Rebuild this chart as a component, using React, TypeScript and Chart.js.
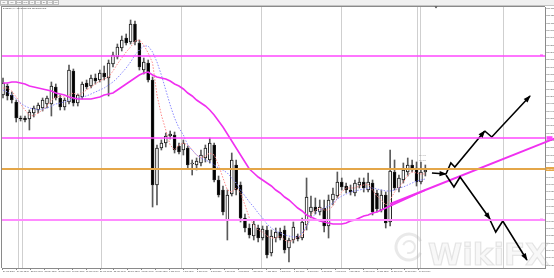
import React, { useEffect, useRef } from "react";
import { Chart, registerables } from "chart.js";

Chart.register(...registerables);

// ---- candle data (price units) ----
const opens = [
  170, 179, 170, 163, 147, 147, 146, 152, 155, 157,
  161, 161, 178, 167, 158, 163, 194, 162, 168, 182,
  179, 187, 185, 192, 187, 201, 208, 217, 227, 223,
  241, 222, 195, 202, 185, 80, 117, 122, 129, 130,
  119, 115, 117, 101, 100, 102, 107, 105, 120, 85,
  75, 45, 71, 100, 80, 47, 37, 29, 37, 27,
  35, 12, 27, 33, 35, 17, 25, 29, 27, 40,
  53, 58, 53, 57, 39, 65, 69, 83, 79, 75,
  72, 80, 83, 75, 82, 72, 55, 70, 43, 93,
  77, 85, 93, 100, 97, 83, 93,
];
const highs = [
  187, 181, 173, 165, 149, 149, 155, 159, 162, 167,
  169, 183, 181, 170, 167, 200, 196, 171, 183, 185,
  190, 191, 195, 199, 205, 213, 221, 229, 231, 245,
  244, 225, 207, 205, 188, 120, 125, 132, 134, 133,
  122, 125, 119, 105, 107, 115, 120, 127, 122, 89,
  79, 75, 112, 105, 83, 51, 41, 45, 40, 39,
  39, 35, 37, 37, 39, 27, 43, 31, 47, 87,
  69, 67, 65, 65, 70, 77, 93, 87, 82, 80,
  85, 87, 87, 92, 85, 75, 75, 73, 115, 105,
  90, 102, 107, 105, 103, 103, 100,
];
const lows = [
  167, 165, 162, 143, 144, 143, 135, 148, 152, 154,
  157, 149, 165, 155, 155, 161, 159, 159, 166, 176,
  177, 181, 183, 185, 169, 198, 206, 214, 220, 221,
  220, 195, 191, 183, 58, 60, 115, 118, 126, 112,
  111, 110, 97, 90, 95, 99, 103, 102, 83, 68,
  50, 25, 69, 70, 43, 33, 27, 25, 23, 25,
  7, 9, 23, 25, 12, 3, 22, 24, 25, 35,
  47, 51, 50, 33, 27, 60, 67, 75, 72, 70,
  69, 77, 73, 73, 50, 53, 53, 37, 39, 75,
  73, 82, 89, 93, 79, 81, 89,
];
const closes = [
  182, 169, 165, 147, 146, 145, 153, 157, 160, 165,
  167, 179, 167, 158, 165, 195, 162, 170, 181, 178,
  187, 184, 192, 188, 202, 210, 218, 225, 222, 241,
  223, 198, 203, 185, 80, 117, 122, 129, 131, 115,
  113, 122, 100, 102, 104, 110, 117, 122, 85, 70,
  53, 70, 105, 75, 47, 37, 30, 41, 27, 36,
  10, 29, 33, 27, 15, 25, 38, 26, 43, 68,
  58, 54, 58, 39, 65, 71, 83, 78, 75, 73,
  82, 83, 77, 83, 53, 56, 70, 42, 94, 77,
  87, 95, 100, 95, 83, 93, 95,
];

// ---- moving averages ----
const slowMA = [
  182, 182, 183, 183, 182, 181, 179, 178, 177, 176,
  175, 174, 172, 171, 170, 168, 167, 166, 166, 166,
  166, 167, 168, 170, 171, 172, 175, 178, 181, 184,
  187, 190, 192, 193, 190, 188, 187, 186, 184, 181,
  179, 176, 172, 169, 165, 162, 159, 155, 150, 144,
  138, 131, 124, 117, 110, 103, 96, 92, 88, 85,
  82, 79, 75, 72, 68, 65, 61, 57, 54, 50,
  48, 46, 44, 43, 42, 41, 41, 41, 42, 44,
  45, 47, 49, 50, 52, 53, 55, 57, 59, 61,
  63, 65, 67, 69, 71, 73, 75,
];
const midMA = [
  175, 173, 170, 166, 162, 159, 157, 156, 155, 156,
  157, 159, 161, 162, 163, 165, 166, 167, 168, 169,
  171, 173, 175, 177, 180, 183, 187, 192, 197, 203,
  210, 215, 219, 219, 213, 203, 190, 175, 160, 147,
  137, 130, 120, 115, 110, 107, 105, 103, 100, 97,
  95, 92, 87, 82, 75, 69, 63, 58, 52, 47,
  41, 37, 34, 32, 30, 29, 28, 28, 32, 39,
  46, 51, 55, 57, 59, 62, 66, 69, 71, 73,
  74, 75, 76, 77, 77, 76, 75, 74, 74, 75,
  77, 78, 80, 82, 84, 85, 86,
];
const fastMA = [
  177, 177, 174, 168, 161, 155, 150, 149, 152, 155,
  159, 165, 168, 169, 168, 170, 172, 170, 172, 175,
  178, 181, 184, 186, 188, 194, 201, 207, 213, 218,
  224, 225, 220, 212, 202, 170, 150, 135, 120, 115,
  120, 122, 120, 115, 110, 107, 109, 112, 110, 100,
  87, 75, 73, 77, 72, 60, 47, 40, 35, 33,
  29, 27, 27, 29, 25, 23, 25, 28, 29, 40,
  50, 55, 57, 55, 55, 59, 67, 73, 77, 77,
  77, 79, 80, 81, 75, 69, 65, 60, 65, 73,
  78, 83, 90, 93, 92, 91, 91,
];

// ---- drawn objects ----
const magentaLevels = [209, 127];
const pinkLevel = 45;
const currentPrice = 96;
const trendX = [88, 125.7];
const trendY = [61, 127];
const arrowRightX = [97.5, 100.7];
const arrowRightY = [92, 91];
const arrowUp1X = [100.7, 101.8, 102.7, 109.5];
const arrowUp1Y = [91, 102, 98, 134];
const arrowUp2X = [109.5, 111.1, 119.8];
const arrowUp2Y = [134, 128, 169];
const arrowDown1X = [100.7, 102.5, 103.9, 110.7];
const arrowDown1Y = [90, 78, 88, 46];
const arrowDown2X = [110.7, 112.0, 113.6, 119.1];
const arrowDown2Y = [45, 33, 44, 5];
const verticalLines = [3.4, 4.3, 22.3, 40.5, 58.6, 76.8, 94.1, 94.8, 113.6];

// ---- axis labels ----
const xLabels = [
  "24 May 2021", "24 May 12:00", "25 May 00:00", "25 May 12:00", "26 May 00:00",
  "26 May 12:00", "27 May 00:00", "27 May 12:00", "28 May 00:00", "28 May 12:00",
  "31 May 00:00", "31 May 12:00", "1 Jun 00:00", "1 Jun 12:00", "2 Jun 00:00",
  "2 Jun 12:00", "3 Jun 00:00", "3 Jun 12:00", "4 Jun 00:00", "4 Jun 12:00",
  "7 Jun 00:00", "7 Jun 12:00", "8 Jun 00:00", "8 Jun 12:00", "9 Jun 00:00",
  "9 Jun 12:00", "10 Jun 00:00", "10 Jun 12:00", "11 Jun 00:00", "11 Jun 12:00",
  "14 Jun 00:00",
];
const yLabels = [
  "109.350", "109.400", "109.450", "109.500", "109.550", "109.600", "109.650",
  "109.700", "109.750", "109.800", "109.850", "109.900", "109.950", "110.000",
  "110.050", "110.100", "110.150", "110.200", "110.250", "110.300", "110.350",
  "110.400", "110.450", "110.500", "110.550", "110.600", "110.650", "110.700",
  "110.750", "110.800", "110.850", "110.900", "110.950", "111.000", "111.050",
  "111.100",
];
const toolbarButtons = ["M1", "M5", "M15", "M30", "H1", "H4", "D1", "W1", "MN"];
const headerText = "\u25BE USDJPY,H4  110.312 110.348 110.298 110.331";
const currentPriceLabel = "110.010";

const FONT = '"Liberation Sans", Arial, sans-serif';

function pts(xs: number[], ys: number[]) {
  return xs.map((x, i) => ({ x, y: ys[i] }));
}

function arrowDataset(label: string, xs: number[], ys: number[]) {
  return {
    type: "line",
    label,
    data: pts(xs, ys),
    borderColor: "#000",
    borderWidth: 1.6,
    pointRadius: 0,
    order: 1,
    clip: false,
    isArrow: true,
  } as any;
}

function buildChart(canvas: HTMLCanvasElement) {
  const bodyColors = opens.map((o, i) => (closes[i] >= o ? "#ffffff" : "#000000"));

  const overlay = {
    id: "overlay",
    beforeDraw(chart: any) {
      const ctx = chart.ctx as CanvasRenderingContext2D;
      ctx.save();
      ctx.fillStyle = "#ffffff";
      ctx.fillRect(0, 0, chart.width, chart.height);
      ctx.fillStyle = "#f0f0f0";
      ctx.fillRect(0, 0, chart.width, 6);
      ctx.strokeStyle = "#c4c4c4";
      ctx.lineWidth = 1;
      ctx.beginPath();
      ctx.moveTo(0, 5.5);
      ctx.lineTo(chart.width, 5.5);
      ctx.stroke();
      const widths = [7, 7, 5, 6, 5, 5, 5, 5, 5];
      let bx = 0.5;
      ctx.font = `2px ${FONT}`;
      ctx.textAlign = "center";
      ctx.textBaseline = "middle";
      toolbarButtons.forEach((b, i) => {
        ctx.strokeStyle = "#bdbdbd";
        ctx.fillStyle = "#f8f8f8";
        ctx.fillRect(bx, 0.5, widths[i], 4);
        ctx.strokeRect(bx, 0.5, widths[i], 4);
        ctx.fillStyle = "#555";
        ctx.fillText(b, bx + widths[i] / 2, 2.6);
        bx += widths[i] + 1;
      });
      ctx.restore();
    },
    beforeDatasetsDraw(chart: any) {
      const ctx = chart.ctx as CanvasRenderingContext2D;
      const a = chart.chartArea;
      const xs = chart.scales.x;
      ctx.save();
      ctx.strokeStyle = "#8a8a8a";
      ctx.lineWidth = 1;
      ctx.beginPath();
      ctx.moveTo(1.5, a.top);
      ctx.lineTo(1.5, a.bottom);
      ctx.moveTo(1, a.top - 0.5);
      ctx.lineTo(a.right, a.top - 0.5);
      ctx.stroke();
      ctx.strokeStyle = "#cfcfcf";
      verticalLines.forEach((v) => {
        const px = Math.round(xs.getPixelForValue(v)) + 0.5;
        ctx.beginPath();
        ctx.moveTo(px, a.top);
        ctx.lineTo(px, a.bottom);
        ctx.stroke();
      });
      // faint watermark (behind marks)
      ctx.strokeStyle = "rgba(175,175,175,0.28)";
      ctx.lineWidth = 3;
      ctx.beginPath();
      ctx.arc(409, 247, 13, Math.PI * 0.15, Math.PI * 1.85);
      ctx.stroke();
      ctx.lineWidth = 2;
      ctx.beginPath();
      ctx.arc(409, 247, 6, Math.PI * 1.1, Math.PI * 2.6);
      ctx.stroke();
      ctx.font = `bold 31px "DejaVu Sans", sans-serif`;
      ctx.textAlign = "left";
      ctx.textBaseline = "alphabetic";
      ctx.fillStyle = "rgba(210,210,210,0.16)";
      ctx.fillText("WikiFX", 428, 265);
      ctx.strokeStyle = "rgba(170,170,170,0.28)";
      ctx.lineWidth = 1.2;
      ctx.strokeText("WikiFX", 428, 265);
      ctx.restore();
    },
    afterDatasetsDraw(chart: any) {
      const ctx = chart.ctx as CanvasRenderingContext2D;
      const a = chart.chartArea;
      const ys = chart.scales.y;
      ctx.save();
      const hline = (v: number, color: string, w: number) => {
        const py = ys.getPixelForValue(v);
        ctx.strokeStyle = color;
        ctx.lineWidth = w;
        ctx.beginPath();
        ctx.moveTo(a.left, py);
        ctx.lineTo(a.right, py);
        ctx.stroke();
        return py;
      };
      magentaLevels.forEach((v) => hline(v, "#ff48ff", 1.5));
      hline(pinkLevel, "#ff8cff", 2);
      const cp = hline(currentPrice, "#e4a648", 2);

      chart.data.datasets.forEach((ds: any, di: number) => {
        if (!ds.isArrow) return;
        const meta = chart.getDatasetMeta(di);
        const n = meta.data.length;
        const p1 = meta.data[n - 2];
        const p2 = meta.data[n - 1];
        const ang = Math.atan2(p2.y - p1.y, p2.x - p1.x);
        const L = 6.5;
        const W = 2.6;
        const bx = p2.x - L * Math.cos(ang);
        const by = p2.y - L * Math.sin(ang);
        ctx.fillStyle = "#000";
        ctx.beginPath();
        ctx.moveTo(p2.x + Math.cos(ang), p2.y + Math.sin(ang));
        ctx.lineTo(bx + W * Math.sin(ang), by - W * Math.cos(ang));
        ctx.lineTo(bx - W * Math.sin(ang), by + W * Math.cos(ang));
        ctx.closePath();
        ctx.fill();
      });

      ctx.font = `2px ${FONT}`;
      ctx.textBaseline = "middle";
      ctx.textAlign = "left";
      ctx.fillStyle = "#e4a648";
      ctx.fillRect(a.right + 0.5, cp - 2, chart.width - a.right, 4);
      ctx.fillStyle = "#ffffff";
      ctx.fillText(currentPriceLabel, a.right + 1.5, cp);
      const m2 = ys.getPixelForValue(magentaLevels[1]);
      ctx.fillStyle = "#ff48ff";
      ctx.fillRect(a.right + 1.5, m2 - 1.8, 6, 3.6);
      const m1 = ys.getPixelForValue(magentaLevels[0]);
      ctx.fillRect(a.right - 5, m1 - 1.5, 3, 1.2);
      const m3 = ys.getPixelForValue(pinkLevel);
      ctx.fillStyle = "#ff8cff";
      ctx.fillRect(a.right - 5, m3 - 1.5, 3, 1.2);
      ctx.restore();
    },
    afterDraw(chart: any) {
      const ctx = chart.ctx as CanvasRenderingContext2D;
      const xs = chart.scales.x;
      const ys = chart.scales.y;
      ctx.save();
      ctx.font = `2px ${FONT}`;
      ctx.fillStyle = "#333";
      ctx.textAlign = "left";
      ctx.textBaseline = "middle";
      ctx.fillText(headerText, 3, 8.6);
      ctx.fillStyle = "#444";
      ctx.beginPath();
      ctx.moveTo(434.5, 6.5);
      ctx.lineTo(437.5, 6.5);
      ctx.lineTo(436, 8.5);
      ctx.closePath();
      ctx.fill();
      ctx.fillStyle = "#9a9a9a";
      const nx = xs.getPixelForValue(94.5);
      ctx.fillText("110.348", nx, ys.getPixelForValue(110));
      ctx.fillText("110.331", nx, ys.getPixelForValue(105));
      ctx.restore();
    },
  };

  return new Chart(canvas, {
    type: "bar",
    data: {
      datasets: [
        arrowDataset("arrowRight", arrowRightX, arrowRightY),
        arrowDataset("arrowUp1", arrowUp1X, arrowUp1Y),
        arrowDataset("arrowUp2", arrowUp2X, arrowUp2Y),
        arrowDataset("arrowDown1", arrowDown1X, arrowDown1Y),
        arrowDataset("arrowDown2", arrowDown2X, arrowDown2Y),
        {
          type: "line",
          label: "trend",
          data: pts(trendX, trendY),
          borderColor: "#f030f0",
          borderWidth: 2,
          pointRadius: 0,
          order: 2,
          clip: false,
        } as any,
        {
          type: "line",
          label: "slowMA",
          data: slowMA.map((v, i) => ({ x: i, y: v })),
          borderColor: "#f030f0",
          borderWidth: 1.6,
          pointRadius: 0,
          order: 3,
        } as any,
        {
          type: "line",
          label: "midMA",
          data: midMA.map((v, i) => ({ x: i, y: v })),
          borderColor: "#8a8aff",
          borderWidth: 1,
          borderDash: [1.5, 1.5],
          pointRadius: 0,
          order: 4,
        } as any,
        {
          type: "line",
          label: "fastMA",
          data: fastMA.map((v, i) => ({ x: i, y: v })),
          borderColor: "#ff8a8a",
          borderWidth: 1,
          borderDash: [1.5, 1.5],
          pointRadius: 0,
          order: 4,
        } as any,
        {
          type: "bar",
          label: "bodies",
          data: opens.map((o, i) => ({ x: i, y: [o, closes[i]] })),
          backgroundColor: bodyColors,
          borderColor: "#1a1a1a",
          borderWidth: 1,
          borderSkipped: false,
          barThickness: 3,
          grouped: false,
          order: 5,
        } as any,
        {
          type: "bar",
          label: "wicks",
          data: lows.map((l, i) => ({ x: i, y: [l, highs[i]] })),
          backgroundColor: "#5a5a5a",
          borderWidth: 0,
          barThickness: 1,
          grouped: false,
          order: 6,
        } as any,
      ],
    },
    options: {
      responsive: false,
      animation: false,
      events: [],
      layout: { padding: { top: 7, left: 2, right: 0, bottom: 0 } },
      plugins: { legend: { display: false }, tooltip: { enabled: false } },
      scales: {
        x: {
          type: "linear",
          position: "bottom",
          min: -0.227,
          max: 123.2,
          offset: false,
          grid: { drawOnChartArea: false, offset: false, tickLength: 2, color: "#8a8a8a" },
          border: { color: "#8a8a8a" },
          ticks: {
            stepSize: 3.15,
            includeBounds: false,
            autoSkip: false,
            maxRotation: 0,
            minRotation: 0,
            align: "start",
            padding: 0.5,
            color: "#444",
            font: { size: 2, family: FONT },
            callback: (_v: any, i: number) => (i < xLabels.length ? xLabels[i] : null),
          },
          afterFit: (s: any) => {
            s.height = 10;
          },
        } as any,
        y: {
          type: "linear",
          position: "right",
          min: -3,
          max: 258,
          grid: { drawOnChartArea: false, tickLength: 1.5, color: "#8a8a8a" },
          border: { color: "#8a8a8a" },
          ticks: {
            stepSize: 7.333,
            includeBounds: false,
            autoSkip: false,
            padding: 0.8,
            color: "#444",
            font: { size: 2, family: FONT },
            callback: (_v: any, i: number) => yLabels[i] ?? "",
          },
          afterFit: (s: any) => {
            s.width = 9;
          },
        } as any,
      },
    } as any,
    plugins: [overlay as any],
  });
}

export default function App() {
  const ref = useRef<HTMLCanvasElement>(null);
  useEffect(() => {
    document.body.style.margin = "0";
    const chart = buildChart(ref.current!);
    return () => chart.destroy();
  }, []);
  return (
    <div style={{ width: 554, height: 278, position: "relative", overflow: "hidden" }}>
      <canvas ref={ref} width={554} height={278} style={{ display: "block", width: 554, height: 278 }} />
    </div>
  );
}
